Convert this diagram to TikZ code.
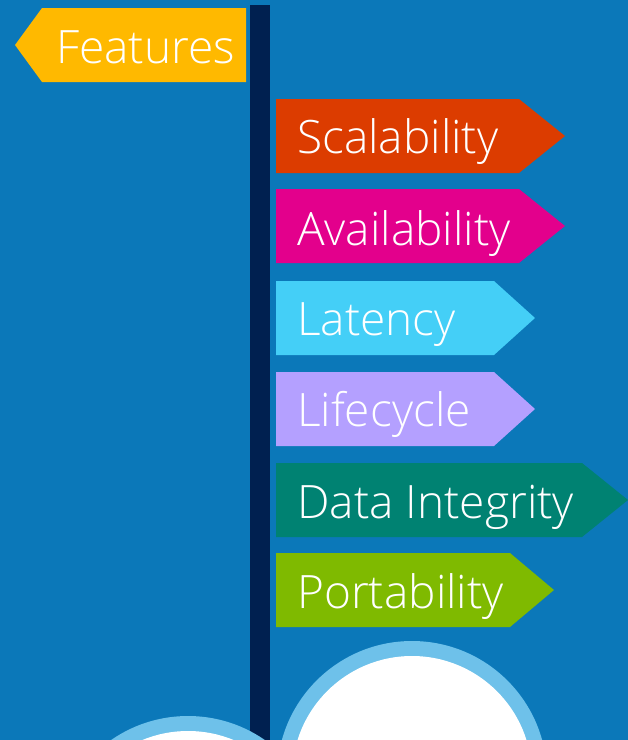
\documentclass[tikz,border=0pt]{standalone}
\usepackage{fontspec}
\setmainfont{Open Sans}[UprightFont={* Light}]
\definecolor{bg}{RGB}{11,120,185}
\definecolor{pole}{RGB}{0,32,80}
\definecolor{cFeat}{RGB}{255,185,0}
\definecolor{cScal}{RGB}{220,60,0}
\definecolor{cAvail}{RGB}{227,0,140}
\definecolor{cLat}{RGB}{68,207,247}
\definecolor{cLife}{RGB}{180,160,255}
\definecolor{cData}{RGB}{0,130,114}
\definecolor{cPort}{RGB}{127,186,0}
\definecolor{ring}{RGB}{110,193,234}
\tikzset{
  signtext/.style={anchor=base west, inner sep=0pt, text=white, font=\fontsize{46}{50}\selectfont},
}
\begin{document}
\begin{tikzpicture}[x=1pt,y=-1pt]
\fill[bg] (0,0) rectangle (628,740);
\useasboundingbox (0,0) rectangle (628,740);
% pole
\fill[pole] (250,5) rectangle (270,740);
% Features sign
\fill[cFeat] (15,45) -- (42,8) -- (246,8) -- (246,82) -- (42,82) -- cycle;
\node[signtext] (feat) at (56,63) {Features};
% right signs
\fill[cScal] (276,99) -- (519,99) -- (565,136) -- (519,173) -- (276,173) -- cycle;
\node[signtext] (scal) at (297,153) {Scalability};
\fill[cAvail] (276,189) -- (519,189) -- (565,226) -- (519,263) -- (276,263) -- cycle;
\node[signtext] (avail) at (297,245) {Availability};
\fill[cLat] (276,281) -- (494,281) -- (535,318) -- (494,355) -- (276,355) -- cycle;
\node[signtext] (lat) at (297,335) {Latency};
\fill[cLife] (276,372) -- (494,372) -- (535,409) -- (494,446) -- (276,446) -- cycle;
\node[signtext] (life) at (297,426) {Lifecycle};
\fill[cData] (276,463) -- (582,463) -- (628,500) -- (582,537) -- (276,537) -- cycle;
\node[signtext] (data) at (297,518) {Data Integrity};
\fill[cPort] (276,553) -- (510,553) -- (554,590) -- (510,627) -- (276,627) -- cycle;
\node[signtext] (port) at (297,608) {Portability};
% circles
\fill[ring] (188,851) circle (135);
\fill[white] (188,851) circle (120);
\fill[ring] (412,776) circle (135);
\fill[white] (412,776) circle (120);
\end{tikzpicture}
\end{document}
